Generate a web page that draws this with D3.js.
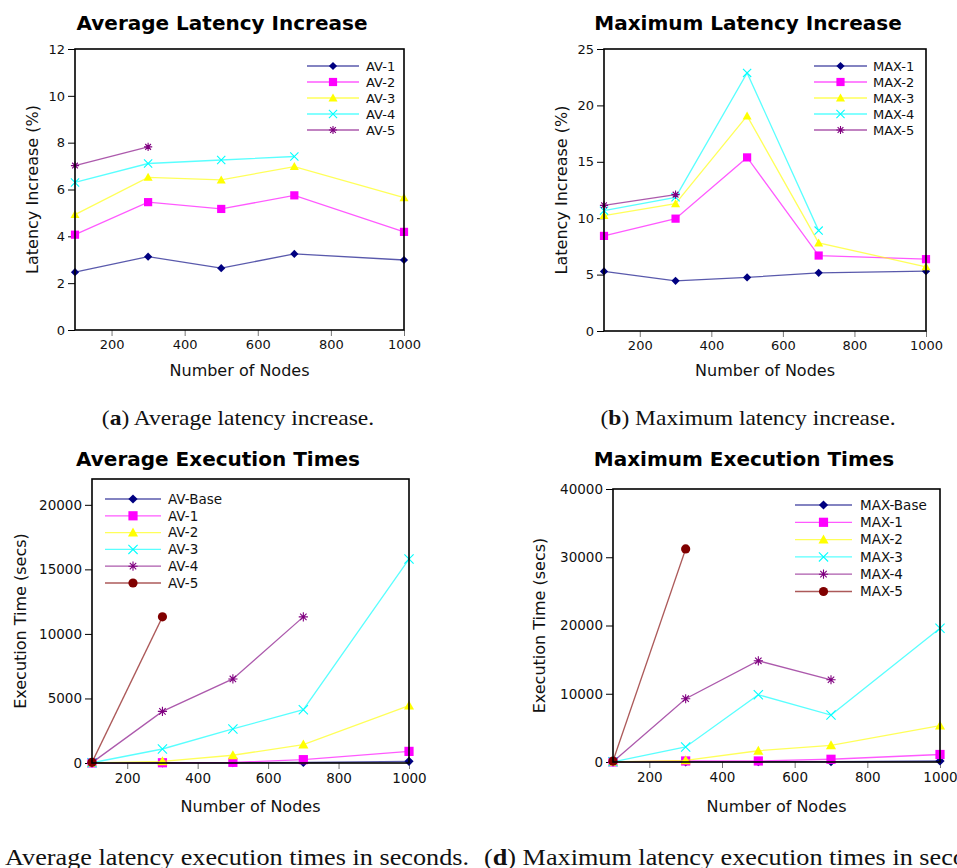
<!DOCTYPE html>
<html>
<head>
<meta charset="utf-8">
<script src="https://cdn.jsdelivr.net/npm/d3@7"></script>
<style>
  body { margin: 0; background: #fff; }
  svg { display: block; }
  .tick text { font-family: "DejaVu Sans", sans-serif; }
</style>
</head>
<body>
<div id="chart"></div>
<script>
// node counts on the x axis
const nodes = [100, 300, 500, 700, 1000];
const xTicks = [200, 400, 600, 800, 1000];

// (a) average latency increase (%)
const av1 = [2.47, 3.13, 2.64, 3.25, 2.99];
const av2 = [4.07, 5.46, 5.17, 5.75, 4.19];
const av3 = [4.93, 6.52, 6.41, 6.98, 5.65];
const av4 = [6.30, 7.11, 7.26, 7.41];
const av5 = [7.02, 7.82];

// (b) maximum latency increase (%)
const max1 = [5.28, 4.45, 4.75, 5.16, 5.30];
const max2 = [8.43, 9.96, 15.39, 6.69, 6.37];
const max3 = [10.23, 11.29, 19.07, 7.81, 5.69];
const max4 = [10.67, 11.85, 22.88, 8.90];
const max5 = [11.14, 12.09];

// (c) average execution times (secs)
const avExBase = [5, 10, 20, 40, 130];
const avEx1 = [5, 20, 50, 260, 900];
const avEx2 = [10, 130, 600, 1420, 4440];
const avEx3 = [20, 1085, 2640, 4130, 15800];
const avEx4 = [30, 4000, 6510, 11320];
const avEx5 = [50, 11320];

// (d) maximum execution times (secs)
const maxExBase = [5, 20, 40, 60, 150];
const maxEx1 = [10, 150, 150, 400, 1100];
const maxEx2 = [20, 250, 1650, 2440, 5320];
const maxEx3 = [30, 2200, 9850, 6880, 19600];
const maxEx4 = [40, 9270, 14830, 12050];
const maxEx5 = [150, 31220];

const colors = {
  navy: "#000080", magenta: "#ff00ff", yellow: "#ffff00",
  cyan: "#00ffff", purple: "#800080", maroon: "#800000"
};

const width = 957, height = 868;
const svg = d3.select("#chart").append("svg")
  .attr("width", width)
  .attr("height", height);

function markerPath(shape, s) {
  if (shape === "diamond") return `M0,${-s}L${s},0L0,${s}L${-s},0Z`;
  if (shape === "square") return `M${-s},${-s}H${s}V${s}H${-s}Z`;
  if (shape === "triangle") return `M0,${-s * 1.1}L${s * 1.1},${s * 0.85}L${-s * 1.1},${s * 0.85}Z`;
  if (shape === "x") return `M${-s},${-s}L${s},${s}M${-s},${s}L${s},${-s}`;
  if (shape === "star") {
    const d = s * 0.7;
    return `M${-d},${-d}L${d},${d}M${-d},${d}L${d},${-d}M0,${-s}V${s}M${-s},0H${s}`;
  }
  return null;
}

function drawMarker(g, shape, color, s) {
  if (shape === "circle") {
    return g.append("circle").attr("r", s).attr("fill", color);
  }
  const p = g.append("path").attr("d", markerPath(shape, s));
  if (shape === "x" || shape === "star") {
    p.attr("fill", "none").attr("stroke", color).attr("stroke-width", 1.1);
  } else {
    p.attr("fill", color);
  }
  return p;
}

function drawPanel(cfg) {
  const g = svg.append("g");
  const x = d3.scaleLinear().domain([100, 1000]).range([cfg.left, cfg.right]);
  const y = d3.scaleLinear().domain([0, cfg.yMax]).range([cfg.bottom, cfg.top]);

  // title
  g.append("text")
    .attr("x", cfg.titleX).attr("y", cfg.titleY)
    .attr("text-anchor", "middle")
    .style("font-family", "DejaVu Sans, sans-serif")
    .style("font-weight", "bold")
    .style("font-size", "20px")
    .text(cfg.title);

  // y axis
  const yAxis = g.append("g")
    .attr("transform", `translate(${cfg.left},0)`)
    .call(d3.axisLeft(y).tickValues(cfg.yTicks).tickSize(7).tickPadding(3).tickFormat(d3.format("d")));
  yAxis.select(".domain").remove();
  yAxis.selectAll("text").style("font-size", cfg.tickFont).attr("fill", "#111");

  // x axis
  const xAxis = g.append("g")
    .attr("transform", `translate(0,${cfg.bottom})`)
    .call(d3.axisBottom(x).tickValues(xTicks).tickSize(6).tickPadding(4).tickFormat(d3.format("d")));
  xAxis.select(".domain").remove();
  xAxis.selectAll("line").attr("stroke", "#777");
  xAxis.selectAll("text").style("font-size", cfg.tickFont).attr("fill", "#111");

  // series
  cfg.series.forEach(s => {
    const pts = s.values.map((v, i) => [nodes[i], v]);
    g.append("path")
      .datum(pts)
      .attr("fill", "none")
      .attr("stroke", s.color)
      .attr("stroke-opacity", 0.65)
      .attr("stroke-width", 1.3)
      .attr("d", d3.line().x(d => x(d[0])).y(d => y(d[1])));
    pts.forEach(d => {
      const mg = g.append("g").attr("transform", `translate(${x(d[0])},${y(d[1])})`);
      drawMarker(mg, s.shape, s.color, cfg.markerSize);
    });
  });

  // frame
  g.append("rect")
    .attr("x", cfg.left).attr("y", cfg.top)
    .attr("width", cfg.right - cfg.left).attr("height", cfg.bottom - cfg.top)
    .attr("fill", "none").attr("stroke", "#000").attr("stroke-width", 1.6);

  // legend
  cfg.series.forEach((s, i) => {
    const ly = cfg.legY + i * cfg.legStep;
    g.append("line")
      .attr("x1", cfg.legX1).attr("x2", cfg.legX2)
      .attr("y1", ly).attr("y2", ly)
      .attr("stroke", s.color).attr("stroke-opacity", 0.65).attr("stroke-width", 1.3);
    const mg = g.append("g").attr("transform", `translate(${(cfg.legX1 + cfg.legX2) / 2},${ly})`);
    drawMarker(mg, s.shape, s.color, cfg.markerSize);
    g.append("text")
      .attr("x", cfg.legText).attr("y", ly)
      .attr("dy", "0.35em")
      .style("font-family", "DejaVu Sans, sans-serif")
      .style("font-size", cfg.legFont)
      .attr("fill", "#111")
      .text(s.name);
  });

  // axis labels
  g.append("text")
    .attr("x", (cfg.left + cfg.right) / 2).attr("y", cfg.xLabelY)
    .attr("text-anchor", "middle")
    .style("font-family", "DejaVu Sans, sans-serif")
    .style("font-size", "16px")
    .attr("fill", "#111")
    .text("Number of Nodes");
  g.append("text")
    .attr("transform", `translate(${cfg.yLabelX},${(cfg.top + cfg.bottom) / 2}) rotate(-90)`)
    .attr("text-anchor", "middle")
    .style("font-family", "DejaVu Sans, sans-serif")
    .style("font-size", "16px")
    .attr("fill", "#111")
    .text(cfg.yLabel);
}

const shapes5 = ["diamond", "square", "triangle", "x", "star"];
const shapes6 = ["diamond", "square", "triangle", "x", "star", "circle"];
const cols5 = [colors.navy, colors.magenta, colors.yellow, colors.cyan, colors.purple];
const cols6 = [colors.navy, colors.magenta, colors.yellow, colors.cyan, colors.purple, colors.maroon];

drawPanel({
  title: "Average Latency Increase", titleX: 222, titleY: 30,
  left: 75, right: 404, top: 49, bottom: 330, yMax: 12,
  yTicks: [0, 2, 4, 6, 8, 10, 12], tickFont: "13px",
  yLabel: "Latency Increase (%)", yLabelX: 38, xLabelY: 376,
  markerSize: 4.1, legX1: 307, legX2: 359, legText: 366, legY: 66, legStep: 16, legFont: "13px",
  series: [av1, av2, av3, av4, av5].map((v, i) => ({
    name: "AV-" + (i + 1), values: v, shape: shapes5[i], color: cols5[i]
  }))
});

drawPanel({
  title: "Maximum Latency Increase", titleX: 748, titleY: 30,
  left: 604, right: 926, top: 49, bottom: 331, yMax: 25,
  yTicks: [0, 5, 10, 15, 20, 25], tickFont: "13px",
  yLabel: "Latency Increase (%)", yLabelX: 567, xLabelY: 376,
  markerSize: 4.1, legX1: 814, legX2: 867, legText: 873, legY: 66, legStep: 16, legFont: "13px",
  series: [max1, max2, max3, max4, max5].map((v, i) => ({
    name: "MAX-" + (i + 1), values: v, shape: shapes5[i], color: cols5[i]
  }))
});

drawPanel({
  title: "Average Execution Times", titleX: 218, titleY: 466,
  left: 92, right: 409, top: 479, bottom: 763, yMax: 22000,
  yTicks: [0, 5000, 10000, 15000, 20000], tickFont: "13.5px",
  yLabel: "Execution Time (secs)", yLabelX: 26, xLabelY: 812,
  markerSize: 4.6, legX1: 105, legX2: 161, legText: 168, legY: 499, legStep: 16.8, legFont: "13.5px",
  series: [avExBase, avEx1, avEx2, avEx3, avEx4, avEx5].map((v, i) => ({
    name: i === 0 ? "AV-Base" : "AV-" + i, values: v, shape: shapes6[i], color: cols6[i]
  }))
});

drawPanel({
  title: "Maximum Execution Times", titleX: 744, titleY: 466,
  left: 613, right: 940, top: 489, bottom: 762, yMax: 40000,
  yTicks: [0, 10000, 20000, 30000, 40000], tickFont: "13.5px",
  yLabel: "Execution Time (secs)", yLabelX: 545, xLabelY: 812,
  markerSize: 4.6, legX1: 795, legX2: 852, legText: 860, legY: 505, legStep: 17.3, legFont: "13.5px",
  series: [maxExBase, maxEx1, maxEx2, maxEx3, maxEx4, maxEx5].map((v, i) => ({
    name: i === 0 ? "MAX-Base" : "MAX-" + i, values: v, shape: shapes6[i], color: cols6[i]
  }))
});

// sub-figure captions (serif, stretched to match the Palatino look; bottom row runs off the page edge as in the source)
const captions = [
  { letter: "a", text: " Average latency increase.", x: 238, y: 425, size: 21, sx: 1.12, anchor: "middle" },
  { letter: "b", text: " Maximum latency increase.", x: 748, y: 425, size: 21, sx: 1.12, anchor: "middle" },
  { letter: "c", text: " Average latency execution times in seconds.", x: 469, y: 865, size: 22.7, sx: 1.155, anchor: "end" },
  { letter: "d", text: " Maximum latency execution times in seconds.", x: 484, y: 865, size: 22.7, sx: 1.155, anchor: "start" }
];
captions.forEach(c => {
  const t = svg.append("text")
    .attr("transform", `translate(${c.x},${c.y}) scale(${c.sx},1)`)
    .attr("text-anchor", c.anchor)
    .style("font-family", "Liberation Serif, serif")
    .style("font-size", c.size + "px")
    .attr("fill", "#111");
  t.append("tspan").text("(");
  t.append("tspan").style("font-weight", "bold").text(c.letter);
  t.append("tspan").text(")" + c.text);
});
</script>
</body>
</html>
